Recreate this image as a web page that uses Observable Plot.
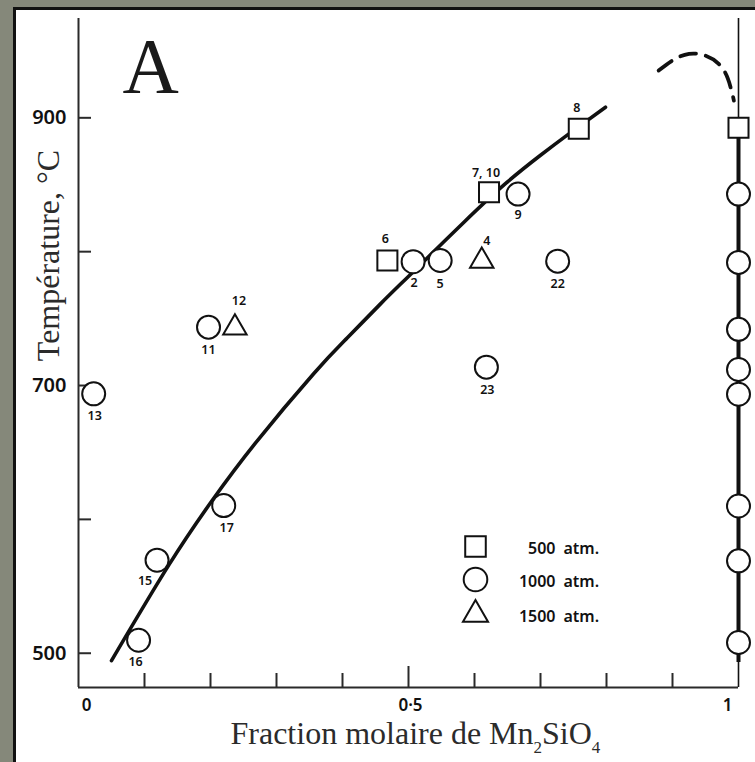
<!DOCTYPE html>
<html><head><meta charset="utf-8">
<script src="https://cdn.jsdelivr.net/npm/d3@7"></script>
<script src="https://cdn.jsdelivr.net/npm/@observablehq/plot@0.6"></script>
<style>
html,body{margin:0;padding:0;width:755px;height:762px;overflow:hidden;background:#85887a;}
#panel{position:absolute;left:13px;top:7px;width:780px;height:790px;background:#ffffff;border-left:3.5px solid #111;border-top:3.5px solid #111;}
#chart{position:absolute;left:0;top:0;}
</style></head><body>
<div id="panel"></div><div id="chart"></div>
<script>
// ---- data ----
const pointLabels   = ["2","4","5","6","7, 10","8","9","11","12","13","15","16","17","22","23"];
const pointFraction = [0.507,0.611,0.548,0.468,0.622,0.758,0.666,0.197,0.237,0.023,0.119,0.091,0.220,0.726,0.618];
const pointTemp     = [792.5,793.1,793.4,793.4,844.4,891.8,843.0,743.6,743.1,693.8,569.5,509.7,610.3,792.9,713.7];
const pointPressure = [1000,1500,1000,500,500,500,1000,1000,1500,1000,1000,1000,1000,1000,1000];

const pureFraction = 1;
const pureTemp     = [892.5,843.0,792.0,742.0,712.0,693.5,610.0,569.0,508.0];
const purePressure = [500,1000,1000,1000,1000,1000,1000,1000,1000];
const pureBoundaryTemp = [493, 892];

const curveFraction = [0.050,0.137,0.2025,0.268,0.3566,0.407,0.4576,0.503,0.584,0.6495,0.700,0.743,0.7985];
const curveTemp     = [494.5,566.0,614.1,657.0,709.0,735.5,761.0,783.0,822.0,851.9,872.0,888.0,907.9];

const dashFraction = [0.879,0.925,0.970,0.988,0.993];
const dashTemp     = [935.3,947.8,940.3,922.9,912.9];

const xTicks = [0.1,0.2,0.3,0.4,0.5,0.6,0.7,0.8,0.9];
const xMajorTick = [0.5];
const xTickLabels = ["0","0·5","1"];
const xTickLabelValues = [0,0.5,1];
const yTicks = [500,600,700,800,900];
const yTickLabels = [500,700,900];

const legendPressure = [500,1000,1500];
const legendUnit = "atm.";

const panelLetter = "A";
const xTitle = "Fraction molaire de Mn2SiO4";
const yTitle = "Température, °C";

// ---- build tables ----
const points = pointLabels.map((label,i)=>({label, x: pointFraction[i], t: pointTemp[i], p: pointPressure[i]}));
const pure = pureTemp.map((t,i)=>({x: pureFraction, t, p: purePressure[i]}));
const curve = curveFraction.map((x,i)=>({x, t: curveTemp[i]}));
const dash = dashFraction.map((x,i)=>({x, t: dashTemp[i]}));

// ---- styles / layout ----
const symbolFor = {500:"square",1000:"circle",1500:"triangle"};
const radiusFor = {square:11.3, circle:11.5, triangle:8.7};
const ink = "#111";
const sans = "'Noto Sans', sans-serif";
const serif = "'Liberation Serif', 'Times New Roman', serif";
const labelOffset = {"2":[1,21],"4":[5,-20],"5":[0,23],"6":[-2,-22],"7, 10":[-3,-19],"8":[-2,-21],"9":[0,21],"11":[0,23],"12":[4,-27],"13":[1,22],"15":[-12,21],"16":[-3,22],"17":[3,22],"22":[0,23],"23":[1,23]};
const xLabelDx = [8,2,-11];
const legendRowDy = [528,561,596];

const W = 755, H = 762, mL = 78, mR = 17, mT = 18, mB = 75;
const plotW = W - mL - mR, plotH = H - mT - mB;

const dotMarks = [];
for (const p of legendPressure) {
  const sym = symbolFor[p];
  const common = {symbol: sym, r: radiusFor[sym], fill: "white", stroke: ink, strokeWidth: 2};
  dotMarks.push(Plot.dot(points.filter(d=>d.p===p), {x:"x", y:"t", ...common}));
  dotMarks.push(Plot.dot(pure.filter(d=>d.p===p), {x:"x", y:"t", ...common}));
}

const labelMarks = points.map(d => Plot.text([d], {
  x:"x", y:"t", text:"label", dx: labelOffset[d.label][0], dy: labelOffset[d.label][1],
  fontFamily: sans, fontWeight: 600, fontSize: 12.5, fill: ink, lineAnchor: "middle", textAnchor: "middle",
  style: "letter-spacing:0.6px"
}));

const legendMarks = [];
legendPressure.forEach((p,i)=>{
  const sym = symbolFor[p];
  legendMarks.push(Plot.dot([p], {frameAnchor:"top-left", dx: 397, dy: legendRowDy[i], symbol: sym,
    r: sym==="triangle" ? 9.3 : sym==="square" ? 11.6 : 11.8, fill:"white", stroke: ink, strokeWidth: 2}));
  legendMarks.push(Plot.text([String(p)], {frameAnchor:"top-left", dx: 477, dy: legendRowDy[i]+2, text: d=>d,
    textAnchor:"end", lineAnchor:"middle", fontFamily: sans, fontWeight: 600, fontSize: 16, fill: ink,
    style:"letter-spacing:2.8px"}));
  legendMarks.push(Plot.text([legendUnit], {frameAnchor:"top-left", dx: 485, dy: legendRowDy[i]+2, text: d=>d,
    textAnchor:"start", lineAnchor:"middle", fontFamily: sans, fontWeight: 600, fontSize: 16, fill: ink,
    style:"letter-spacing:1.5px"}));
});

const chart = Plot.plot({
  width: W, height: H,
  marginLeft: mL, marginRight: mR, marginTop: mT, marginBottom: mB,
  style: {background: "transparent", overflow: "visible"},
  x: {domain: [0,1], axis: null},
  y: {domain: [474.4, 974.2], axis: null},
  marks: [
    // axes
    Plot.ruleX([0], {stroke: "#2a2a2a", strokeWidth: 2}),
    Plot.ruleY([474.4], {stroke: "#2a2a2a", strokeWidth: 2}),
    Plot.tickX(xTicks.filter(t=>!xMajorTick.includes(t)), {x: d=>d, insetTop: plotH-14, stroke:"#2a2a2a", strokeWidth: 2}),
    Plot.tickX(xMajorTick, {x: d=>d, insetTop: plotH-21, stroke:"#2a2a2a", strokeWidth: 2}),
    Plot.tickY(yTicks, {y: d=>d, insetRight: plotW-13, stroke:"#2a2a2a", strokeWidth: 2}),
    ...xTickLabels.map((lab,i)=>Plot.text([lab], {x: ()=>xTickLabelValues[i], text: d=>d, frameAnchor:"bottom",
      dx: xLabelDx[i], dy: 18, lineAnchor:"middle", fontFamily: sans, fontWeight: 600, fontSize: 17, fill: ink,
      style:"letter-spacing:1.5px"})),
    Plot.text(yTickLabels, {y: d=>d, text: d=>String(d), frameAnchor:"left", dx: -12, textAnchor:"end",
      lineAnchor:"middle", fontFamily: sans, fontWeight: 600, fontSize: 20, fill: ink, style:"letter-spacing:1px"}),
    // titles
    Plot.text([yTitle], {text: d=>d, frameAnchor:"left", rotate: -90, dx: -20, dy: -97.5, textAnchor:"middle",
      lineAnchor:"bottom", fontFamily: serif, fontSize: 32, fill: "#2b2b2b"}),
    Plot.text([xTitle], {text: d=>d, frameAnchor:"bottom", dx: -178, dy: 56, textAnchor:"start",
      lineAnchor:"bottom", fontFamily: serif, fontSize: 32, fill: "#2b2b2b"}),
    Plot.text([panelLetter], {text: d=>d, frameAnchor:"top-left", dx: 44, dy: 73.7, textAnchor:"start",
      lineAnchor:"bottom", fontFamily: serif, fontSize: 78, fill: "#1a1a1a"}),
    // pure end-member boundary
    Plot.ruleX([pureFraction], {stroke: ink, strokeWidth: 1.6}),
    Plot.ruleX([pureFraction], {y1: pureBoundaryTemp[0], y2: pureBoundaryTemp[1], stroke: ink, strokeWidth: 4}),
    // curves
    Plot.line(curve, {x:"x", y:"t", curve:"natural", stroke: ink, strokeWidth: 3.6}),
    Plot.line(dash, {x:"x", y:"t", curve:"natural", stroke: ink, strokeWidth: 3.8, strokeDasharray: "16,10"}),
    // points
    ...dotMarks,
    ...labelMarks,
    ...legendMarks
  ]
});

// subscripts in x title
for (const t of chart.querySelectorAll("text")) {
  if (t.textContent === xTitle) {
    while (t.firstChild) t.removeChild(t.firstChild);
    const parts = [["Fraction molaire de Mn",0,null],["2",9,"17px"],["SiO",-9,null],["4",9,"17px"]];
    for (const [s,dy,fs] of parts) {
      const ts = document.createElementNS("http://www.w3.org/2000/svg","tspan");
      ts.textContent = s;
      if (dy) ts.setAttribute("dy", dy);
      if (fs) ts.setAttribute("font-size", fs);
      t.appendChild(ts);
    }
  }
}
document.getElementById("chart").appendChild(chart);
</script></body></html>
